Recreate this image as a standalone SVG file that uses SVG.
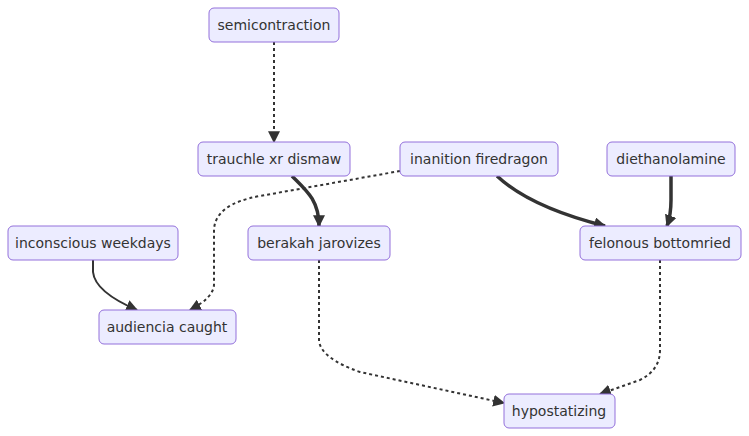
<svg xmlns="http://www.w3.org/2000/svg" width="749" height="436" viewBox="0 0 749 436">
<style>
.node rect{fill:#ECECFF;stroke:#9370DB;stroke-width:1}
.node text{font-family:"DejaVu Sans",Verdana,sans-serif;font-size:14px;fill:#333;text-anchor:middle;dominant-baseline:central}
.e{fill:none;stroke:#333}
.n{stroke-width:2}
.t{stroke-width:3.5}
.d{stroke-width:2;stroke-dasharray:3 3}
</style>
<defs>
<marker id="ah" viewBox="0 0 10 10" refX="9" refY="5" markerUnits="userSpaceOnUse" markerWidth="12" markerHeight="12" orient="auto">
<path d="M0,0 L10,5 L0,10 z" fill="#333"/>
</marker>
</defs>
<rect width="749" height="436" fill="#fff"/>
<g id="edges">
<path class="e d" d="M274,42 L274,142" marker-end="url(#ah)"/>
<path class="e t" d="M292,176 C306,190 319,200 319,226" marker-end="url(#ah)"/>
<path class="e d" d="M400,171 L260,196 Q215,204 214,230 L214,285 Q213,298 190,310" marker-end="url(#ah)"/>
<path class="e t" d="M497,176 Q530,207 605,226" marker-end="url(#ah)"/>
<path class="e t" d="M671,176 L671,200 Q671,215 667,226" marker-end="url(#ah)"/>
<path class="e n" d="M93,260 L93,272 Q95,292 137,310" marker-end="url(#ah)"/>
<path class="e d" d="M319,260 L319,340 Q320,358 360,372 L504,403" marker-end="url(#ah)"/>
<path class="e d" d="M660,260 L660,350 Q660,370 640,380 L600,394" marker-end="url(#ah)"/>
</g>
<g id="semicontraction" class="node"><rect x="209" y="8" width="130" height="34" rx="5"/><text x="274" y="25">semicontraction</text></g>
<g id="trauchle" class="node"><rect x="198" y="142" width="152" height="34" rx="5"/><text x="274" y="159">trauchle xr dismaw</text></g>
<g id="inanition" class="node"><rect x="400" y="142" width="158" height="34" rx="5"/><text x="479" y="159">inanition firedragon</text></g>
<g id="diethanolamine" class="node"><rect x="607" y="142" width="128" height="34" rx="5"/><text x="671" y="159">diethanolamine</text></g>
<g id="inconscious" class="node"><rect x="8" y="226" width="170" height="34" rx="5"/><text x="93" y="243">inconscious weekdays</text></g>
<g id="berakah" class="node"><rect x="248" y="226" width="142" height="34" rx="5"/><text x="319" y="243">berakah jarovizes</text></g>
<g id="felonous" class="node"><rect x="580" y="226" width="161" height="34" rx="5"/><text x="660" y="243">felonous bottomried</text></g>
<g id="audiencia" class="node"><rect x="99" y="310" width="137" height="34" rx="5"/><text x="167" y="327">audiencia caught</text></g>
<g id="hypostatizing" class="node"><rect x="504" y="394" width="111" height="34" rx="5"/><text x="559" y="411">hypostatizing</text></g>
</svg>
